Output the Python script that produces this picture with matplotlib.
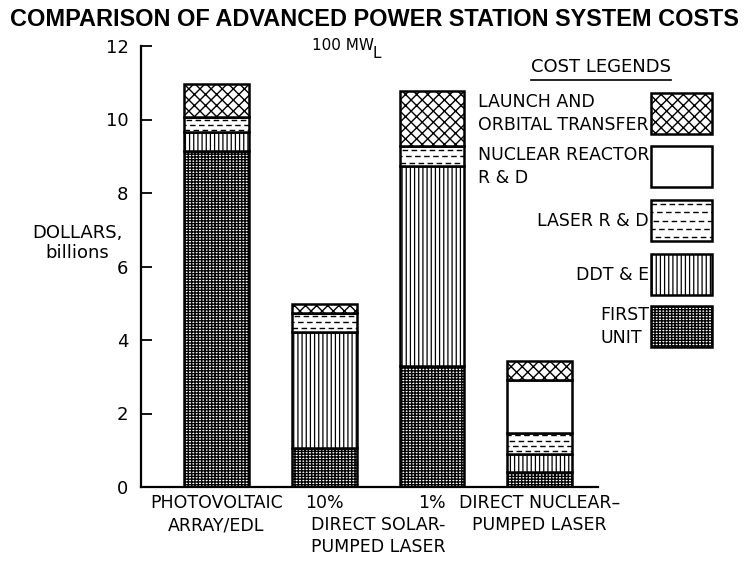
import matplotlib
matplotlib.use("Agg")
import matplotlib.pyplot as plt
from matplotlib.patches import Rectangle
from matplotlib.lines import Line2D
import matplotlib.transforms as mtransforms
import numpy as np

# ---- data (billions of dollars) ----
systems = ["PHOTOVOLTAIC\nARRAY/EDL", "10%", "1%", "DIRECT NUCLEAR\u2013\nPUMPED LASER"]
shared_label = "DIRECT SOLAR-\nPUMPED LASER"
first_unit = [9.15, 1.05, 3.28, 0.40]
ddt_e = [0.50, 3.18, 5.45, 0.50]
laser_rd = [0.42, 0.50, 0.54, 0.58]
nuclear_rd = [0.0, 0.0, 0.0, 1.44]
launch = [0.90, 0.25, 1.50, 0.52]

cost_names = ["LAUNCH AND\nORBITAL TRANSFER", "NUCLEAR REACTOR\nR & D",
              "LASER R & D", "DDT & E", "FIRST\nUNIT"]
yticks = [0, 2, 4, 6, 8, 10, 12]

plt.rcParams["font.family"] = ["DejaVu Sans"]
TITLE_FAM = ["Liberation Sans", "DejaVu Sans"]

W, H = 745, 561
fig = plt.figure(figsize=(W / 100, H / 100), dpi=100)
fig.patch.set_facecolor("white")

ax = fig.add_axes([141 / W, (H - 487) / H, (598 - 141) / W, (487 - 46) / H])
ax.set_facecolor("none")

x = np.arange(len(systems))
width = 0.6

styles = [
    (first_unit, "+++++-", 1.0),
    (ddt_e, "||||", 0.9),
    (laser_rd, "", 0.9),
    (nuclear_rd, "", 0.9),
    (launch, "xxx", 1.0),
]

bottom = np.zeros(len(x))
containers = []
for vals, hatch, hlw in styles:
    plt.rcParams["hatch.linewidth"] = hlw
    bars = ax.bar(x, vals, width, bottom=bottom, facecolor="white",
                  edgecolor="black", linewidth=1.8, hatch=hatch or None, zorder=2)
    containers.append(bars)
    bottom = bottom + np.array(vals)


def dashed_fill(axis, patch, spacing, transform_h):
    """Fill a patch with staggered dashed horizontal lines, clipped to it."""
    x0, y0 = patch.get_x(), patch.get_y()
    w, h = patch.get_width(), patch.get_height()
    if h <= 0:
        return
    n = max(1, int(round(h / spacing)))
    for k in range(n):
        yy = y0 + h * (k + 0.5) / n
        ln = Line2D([x0, x0 + w], [yy, yy], color="black", lw=1.0,
                    linestyle=(k * 2.5, (4, 2.5)), transform=transform_h, zorder=3)
        axis.add_line(ln)
        ln.set_clip_path(patch)


for p in containers[2]:
    dashed_fill(ax, p, 0.16, ax.transData)

ax.set_xlim(-0.701, 3.542)
ax.set_ylim(0, 12)
ax.spines["top"].set_visible(False)
ax.spines["right"].set_visible(False)
ax.spines["left"].set_linewidth(1.6)
ax.spines["bottom"].set_linewidth(1.6)
ax.set_yticks(yticks)
ax.tick_params(axis="y", direction="in", length=8, width=1.3, pad=9, labelsize=13)
ax.set_xticks(x, systems)
ax.tick_params(axis="x", length=0, pad=5, labelsize=12.5)
for t in ax.get_xticklabels():
    t.set_linespacing(1.3)

tr = mtransforms.blended_transform_factory(ax.transData, ax.transAxes)
ax.text(1.5, -0.066, shared_label, transform=tr, ha="center", va="top",
        ma="left", fontsize=12.5, linespacing=1.3)

# ---- overlay in pixel coordinates for titles and legend ----
ov = fig.add_axes([0, 0, 1, 1])
ov.set_xlim(0, W)
ov.set_ylim(H, 0)
ov.axis("off")
ov.patch.set_alpha(0)

title = ov.text(374, 19, "COMPARISON OF ADVANCED POWER STATION SYSTEM COSTS",
                ha="center", va="center", fontsize=16, fontweight="bold",
                family=TITLE_FAM)
mw = ov.text(312, 45, "100 MW", ha="left", va="center", fontsize=11)
ov.annotate("L", xy=(1, 0.5), xycoords=mw, xytext=(-1, -6), textcoords="offset points",
            ha="left", va="center", fontsize=11)

ov.text(77, 243, "DOLLARS,\nbillions", ha="center", va="center", fontsize=13,
        linespacing=1.1)

# legend
leg_title = ov.text(601, 67, "COST LEGENDS", ha="center", va="center", fontsize=13)
box_tops = [93, 146, 200, 254, 306]
leg_styles = [("xxx", 1.0), ("", 1.0), ("", 1.0), ("||||", 0.9), ("+++++-", 1.0)]
for name, top, (hatch, hlw) in zip(cost_names, box_tops, leg_styles):
    plt.rcParams["hatch.linewidth"] = hlw
    r = Rectangle((651, top), 61, 41, facecolor="white", edgecolor="black",
                  linewidth=1.8, hatch=hatch or None)
    ov.add_patch(r)
    if name == "LASER R & D":
        dashed_fill(ov, r, 7.5, ov.transData)
    ov.text(649, top + 20.5, name, ha="right", va="center", ma="left",
            fontsize=12.5, linespacing=1.35)

# fit the title across the page width
fig.canvas.draw()
renderer = fig.canvas.get_renderer()
tw = title.get_window_extent(renderer).width
title.set_fontsize(16 * 730 / tw)

bb = leg_title.get_window_extent(renderer).transformed(ov.transData.inverted())
ov.plot([bb.x0, bb.x1], [bb.y0 + 4, bb.y0 + 4], color="black", lw=1.2)

fig.savefig("out.png", dpi=100, facecolor="white")
